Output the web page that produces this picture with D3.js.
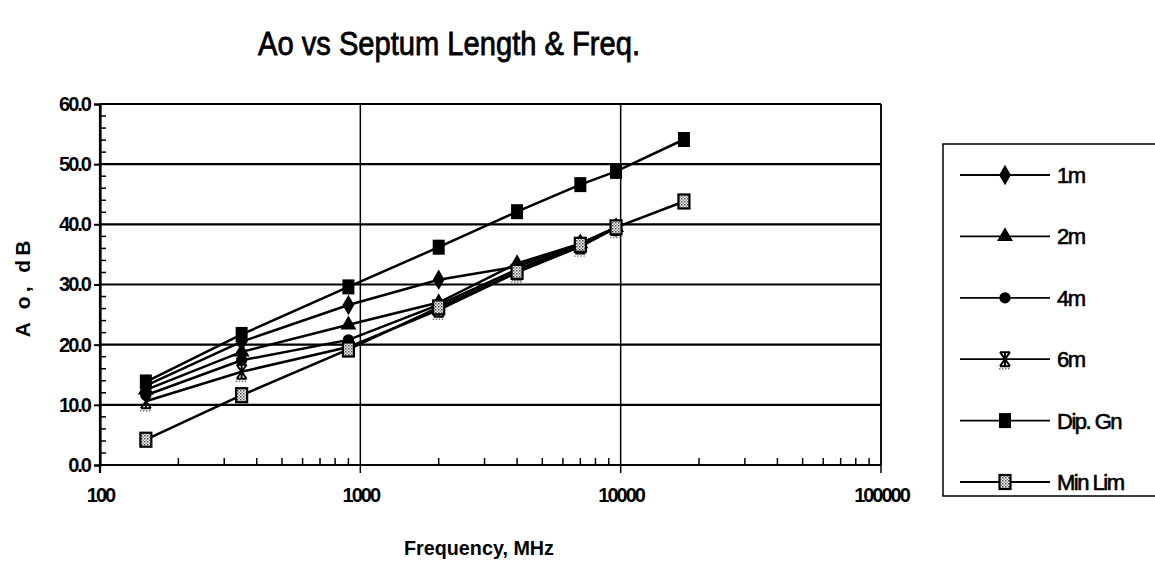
<!DOCTYPE html>
<html>
<head>
<meta charset="utf-8">
<script src="https://cdn.jsdelivr.net/npm/d3@7"></script>
<style>
  html, body { margin: 0; padding: 0; background: #fff; }
  svg { display: block; }
</style>
</head>
<body>
<svg id="chart" width="1155" height="566"></svg>
<script>
// Measurement frequencies (MHz)
const freqs = [150, 350, 900, 2000, 4000, 7000, 9600, 17500];

// Attenuation Ao (dB) per septum length and reference curves
const s1m    = [13.2, 20.5, 26.6, 30.8, 33.0, 36.8, 39.5];
const s2m    = [12.5, 18.8, 23.3, 27.0, 33.5, 36.8, 39.5];
const s4m    = [11.6, 17.4, 20.8, 26.6, 32.5, 36.6, 39.5];
const s6m    = [10.6, 15.5, 19.6, 25.8, 32.0, 36.3, 39.4];
const dipGn  = [13.8, 21.7, 29.6, 36.2, 42.1, 46.6, 48.8, 54.1];
const minLim = [4.2, 11.6, 19.2, 26.2, 32.1, 36.6, 39.5, 43.8];

const seriesNames = ["1m", "2m", "4m", "6m", "Dip. Gn", "Min Lim"];
const seriesVals  = [s1m, s2m, s4m, s6m, dipGn, minLim];
const markerKind  = ["diamond", "triangle", "circle", "asterisk", "square", "stipple"];

const yTicks = [0, 10, 20, 30, 40, 50, 60];
const xTicks = [100, 1000, 10000, 100000];

const svg = d3.select("#chart");
const plot = { left: 100, right: 881, top: 104, bottom: 465 };

const x = d3.scaleLog().domain([100, 100000]).range([plot.left, plot.right]);
const y = d3.scaleLinear().domain([0, 60]).range([plot.bottom, plot.top]);

const FONT = "'Liberation Sans', Arial, sans-serif";

// stippled fill for the Min Lim markers
const defs = svg.append("defs");
const pat = defs.append("pattern").attr("id", "stip")
  .attr("width", 3).attr("height", 3).attr("patternUnits", "userSpaceOnUse");
pat.append("rect").attr("width", 3).attr("height", 3).attr("fill", "#fff");
pat.append("rect").attr("width", 1.5).attr("height", 1.5).attr("fill", "#444");
pat.append("rect").attr("x", 1.5).attr("y", 1.5).attr("width", 1.5).attr("height", 1.5).attr("fill", "#888");

// title
svg.append("text")
  .attr("x", 258).attr("y", 55)
  .attr("textLength", 382).attr("lengthAdjust", "spacingAndGlyphs")
  .attr("font-family", FONT)
  .attr("font-size", 33)
  .attr("stroke", "#000").attr("stroke-width", 0.8)
  .text("Ao vs Septum Length & Freq.");

// horizontal gridlines
svg.append("g").selectAll("line").data(yTicks).join("line")
  .attr("x1", plot.left).attr("x2", plot.right)
  .attr("y1", d => y(d)).attr("y2", d => y(d))
  .attr("stroke", "#000").attr("stroke-width", 2.2);

// vertical gridlines at each decade
svg.append("g").selectAll("line").data(xTicks).join("line")
  .attr("x1", d => x(d)).attr("x2", d => x(d))
  .attr("y1", plot.top).attr("y2", plot.bottom + 8)
  .attr("stroke", "#000").attr("stroke-width", d => (d === 100 ? 2.2 : 1.5));

// right border of plot area
svg.append("line")
  .attr("x1", plot.right).attr("x2", plot.right)
  .attr("y1", plot.top).attr("y2", plot.bottom)
  .attr("stroke", "#000").attr("stroke-width", 1.5);

// y axis: major ticks outward, minor ticks inward every 2 dB
const yAxis = d3.axisLeft(y).tickValues(yTicks).tickSize(6).tickFormat(d3.format(".1f"));
const gy = svg.append("g").attr("transform", `translate(${plot.left},0)`).call(yAxis);
gy.select(".domain").attr("stroke-width", 2.2);
gy.selectAll(".tick line").attr("stroke-width", 2);
gy.selectAll(".tick text")
  .attr("font-family", FONT)
  .attr("font-weight", "bold").attr("font-size", 20)
  .attr("letter-spacing", -2)
  .attr("dx", -1).attr("fill", "#000");
const yMinor = d3.range(0, 61, 2).filter(v => v % 10 !== 0);
svg.append("g").selectAll("line").data(yMinor).join("line")
  .attr("x1", plot.left).attr("x2", plot.left + 6)
  .attr("y1", d => y(d)).attr("y2", d => y(d))
  .attr("stroke", "#000").attr("stroke-width", 1.5);

// x axis labels and minor ticks
const xAxis = d3.axisBottom(x).tickValues(xTicks).tickSize(0).tickFormat(d3.format("d"));
const gx = svg.append("g").attr("transform", `translate(0,${plot.bottom})`).call(xAxis);
gx.select(".domain").remove();
gx.selectAll(".tick text")
  .attr("font-family", FONT)
  .attr("font-weight", "bold").attr("font-size", 20)
  .attr("letter-spacing", -2)
  .attr("dy", 34).attr("fill", "#000");
const xMinor = [];
[100, 1000, 10000].forEach(dec => { for (let k = 2; k <= 9; k++) xMinor.push(dec * k); });
svg.append("g").selectAll("line").data(xMinor).join("line")
  .attr("x1", d => x(d)).attr("x2", d => x(d))
  .attr("y1", plot.bottom).attr("y2", plot.bottom - 7)
  .attr("stroke", "#000").attr("stroke-width", 1.5);

// axis titles
svg.append("text")
  .attr("x", 479).attr("y", 555)
  .attr("text-anchor", "middle")
  .attr("textLength", 150).attr("lengthAdjust", "spacingAndGlyphs")
  .attr("font-family", FONT)
  .attr("font-weight", "bold").attr("font-size", 21)
  .text("Frequency, MHz");
svg.append("text")
  .attr("transform", "translate(30,287) rotate(-90)")
  .attr("text-anchor", "middle")
  .attr("font-family", FONT)
  .attr("font-weight", "bold").attr("font-size", 21)
  .attr("letter-spacing", 4)
  .text("A o,  dB");

// marker drawing
function drawMarker(g, kind, cx, cy) {
  const sym = {
    diamond: d3.symbolDiamond, triangle: d3.symbolTriangle,
    circle: d3.symbolCircle
  };
  if (kind === "asterisk") {
    const a = g.append("g").attr("transform", `translate(${cx},${cy})`);
    a.append("path").attr("d", "M-5,-7 L5,7 M5,-7 L-5,7 M-5,-7 L5,-7 M-5,7 L5,7 M0,-7 L0,7")
      .attr("stroke", "#000").attr("stroke-width", 2).attr("fill", "none");
    a.append("path").attr("d", "M-6,9.5 L6,9.5")
      .attr("stroke", "#777").attr("stroke-width", 1.4).attr("stroke-dasharray", "1.5,1.5");
  } else if (kind === "stipple") {
    g.append("rect").attr("x", cx - 5.5).attr("y", cy - 7).attr("width", 11).attr("height", 14)
      .attr("fill", "url(#stip)").attr("stroke", "#000").attr("stroke-width", 2.2);
  } else if (kind === "square") {
    g.append("rect").attr("x", cx - 6).attr("y", cy - 7.5).attr("width", 12).attr("height", 15)
      .attr("fill", "#000");
  } else {
    const size = kind === "triangle" ? 110 : kind === "circle" ? 100 : 120;
    g.append("path").attr("transform", `translate(${cx},${cy})`)
      .attr("d", d3.symbol().type(sym[kind]).size(size)())
      .attr("fill", "#000");
  }
}

const line = d3.line().x(d => x(d[0])).y(d => y(d[1]));

seriesVals.forEach((vals, i) => {
  const pts = vals.map((v, j) => [freqs[j], v]);
  const g = svg.append("g");
  g.append("path").datum(pts).attr("d", line)
    .attr("fill", "none").attr("stroke", "#000").attr("stroke-width", 2.5);
  pts.forEach(p => drawMarker(g, markerKind[i], x(p[0]), y(p[1])));
});

// legend
const lg = svg.append("g");
lg.append("rect").attr("x", 943).attr("y", 144).attr("width", 230).attr("height", 352)
  .attr("fill", "none").attr("stroke", "#000").attr("stroke-width", 1.5);
const legY = d3.scalePoint().domain(seriesNames).range([175, 482]);
seriesNames.forEach((name, i) => {
  const ly = legY(name);
  lg.append("line").attr("x1", 960).attr("x2", 1050).attr("y1", ly).attr("y2", ly)
    .attr("stroke", "#000").attr("stroke-width", 1.8);
  drawMarker(lg, markerKind[i], 1005, ly);
  lg.append("text").attr("x", 1057).attr("y", ly + 8)
    .attr("font-family", FONT)
    .attr("font-size", 22).attr("letter-spacing", -1.5)
    .attr("stroke", "#000").attr("stroke-width", 0.6)
    .text(name);
});
</script>
</body>
</html>
